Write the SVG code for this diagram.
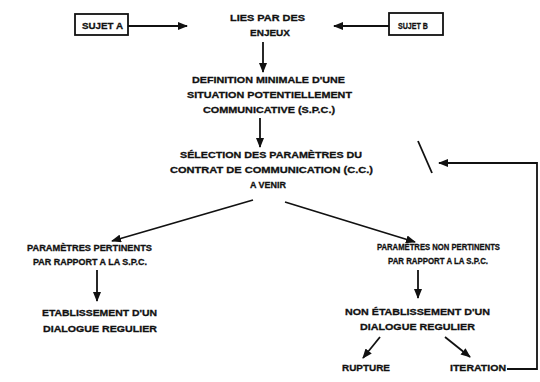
<svg xmlns="http://www.w3.org/2000/svg" width="540" height="382" viewBox="0 0 540 382">
<style>
text{font-family:"Liberation Sans",Arial,sans-serif;font-weight:bold;font-size:9.5px;fill:#111;stroke:#111;stroke-width:0.3}
.ln{stroke:#111;stroke-width:1.8;fill:none}
.box{stroke:#111;stroke-width:1.8;fill:#fff}
</style>
<defs>
<marker id="ah" markerUnits="userSpaceOnUse" markerWidth="10" markerHeight="8" refX="9" refY="4" orient="auto">
<path d="M0,0 L10,4 L0,8 Z" fill="#111"/>
</marker>
</defs>
<rect width="540" height="382" fill="#fff"/>
<g id="connectors">
<line class="ln" x1="128" y1="26" x2="187" y2="26" marker-end="url(#ah)"/>
<line class="ln" x1="389" y1="26" x2="334" y2="26" marker-end="url(#ah)"/>
<line class="ln" x1="263" y1="42" x2="263" y2="72" marker-end="url(#ah)"/>
<line class="ln" x1="260" y1="118" x2="260" y2="147" marker-end="url(#ah)"/>
<line class="ln" x1="253" y1="200" x2="112" y2="241" marker-end="url(#ah)"/>
<line class="ln" x1="285" y1="202" x2="415" y2="242" marker-end="url(#ah)"/>
<line class="ln" x1="97" y1="270" x2="97" y2="301" marker-end="url(#ah)"/>
<line class="ln" x1="418" y1="270" x2="418" y2="298" marker-end="url(#ah)"/>
<line class="ln" x1="380" y1="337" x2="363" y2="358" marker-end="url(#ah)"/>
<line class="ln" x1="445" y1="337" x2="470" y2="357" marker-end="url(#ah)"/>
<polyline class="ln" points="507,369 537,369 537,163 439,163" marker-end="url(#ah)"/>
<line class="ln" x1="418" y1="141" x2="432" y2="173" stroke-width="1.2"/>
</g>
<g id="sujetA">
<rect class="box" x="75" y="14" width="53" height="21"/>
<text x="82" y="29" textLength="41" lengthAdjust="spacingAndGlyphs">SUJET A</text>
</g>
<g id="sujetB">
<rect class="box" x="389" y="13" width="54" height="22"/>
<text x="398" y="28.5" textLength="30" lengthAdjust="spacingAndGlyphs">SUJET B</text>
</g>
<g id="lies">
<text x="230" y="21" textLength="75" lengthAdjust="spacingAndGlyphs">LIES PAR DES</text>
<text x="250" y="36" textLength="40" lengthAdjust="spacingAndGlyphs">ENJEUX</text>
</g>
<g id="definition">
<text x="192" y="83" textLength="153" lengthAdjust="spacingAndGlyphs">DEFINITION MINIMALE D'UNE</text>
<text x="187" y="98" textLength="165" lengthAdjust="spacingAndGlyphs">SITUATION POTENTIELLEMENT</text>
<text x="203" y="113" textLength="132" lengthAdjust="spacingAndGlyphs">COMMUNICATIVE (S.P.C.)</text>
</g>
<g id="selection">
<text x="180" y="158" textLength="182" lengthAdjust="spacingAndGlyphs">SÉLECTION DES PARAMÈTRES DU</text>
<text x="170" y="173" textLength="203" lengthAdjust="spacingAndGlyphs">CONTRAT DE COMMUNICATION (C.C.)</text>
<text x="250" y="188" textLength="36" lengthAdjust="spacingAndGlyphs">A VENIR</text>
</g>
<g id="pertinents">
<text x="27" y="251" textLength="125" lengthAdjust="spacingAndGlyphs">PARAMÈTRES PERTINENTS</text>
<text x="33" y="265" textLength="114" lengthAdjust="spacingAndGlyphs">PAR RAPPORT A LA S.P.C.</text>
</g>
<g id="etablissement">
<text x="42" y="316" textLength="115" lengthAdjust="spacingAndGlyphs">ETABLISSEMENT D'UN</text>
<text x="43" y="332" textLength="114" lengthAdjust="spacingAndGlyphs">DIALOGUE REGULIER</text>
</g>
<g id="non-pertinents">
<text x="377" y="250" textLength="123" lengthAdjust="spacingAndGlyphs">PARAMÈTRES NON PERTINENTS</text>
<text x="388" y="264" textLength="100" lengthAdjust="spacingAndGlyphs">PAR RAPPORT A LA S.P.C.</text>
</g>
<g id="non-etablissement">
<text x="345" y="315" textLength="145" lengthAdjust="spacingAndGlyphs">NON ÉTABLISSEMENT D'UN</text>
<text x="360" y="330" textLength="115" lengthAdjust="spacingAndGlyphs">DIALOGUE REGULIER</text>
</g>
<g id="rupture">
<text x="342" y="371" textLength="48" lengthAdjust="spacingAndGlyphs">RUPTURE</text>
</g>
<g id="iteration">
<text x="450" y="371" textLength="56" lengthAdjust="spacingAndGlyphs">ITERATION</text>
</g>
</svg>
